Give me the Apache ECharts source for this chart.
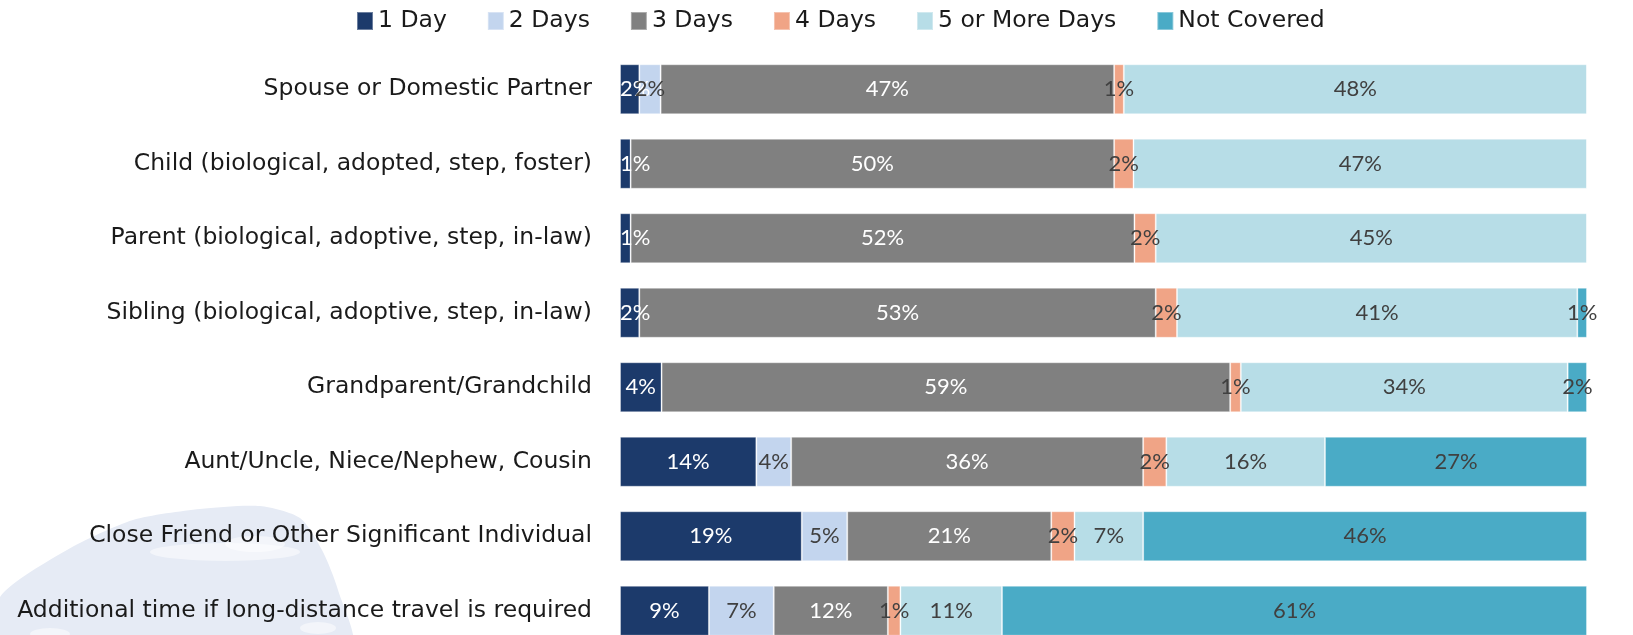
<!DOCTYPE html>
<html>
<head>
<meta charset="utf-8">
<script src="https://cdn.jsdelivr.net/npm/echarts@6/dist/echarts.min.js"></script>
<style>
  html, body { margin: 0; padding: 0; overflow: hidden; background: #fff; }
  #chart { width: 1633px; height: 648px; }
</style>
</head>
<body>
<div id="chart"></div>
<script>
  // categories, top to bottom
  var categories = [
    'Spouse or Domestic Partner',
    'Child (biological, adopted, step, foster)',
    'Parent (biological, adoptive, step, in-law)',
    'Sibling (biological, adoptive, step, in-law)',
    'Grandparent/Grandchild',
    'Aunt/Uncle, Niece/Nephew, Cousin',
    'Close Friend or Other Significant Individual',
    'Additional time if long-distance travel is required'
  ];

  // share of respondents (%)
  var oneDay     = [2.0, 1.1, 1.1, 2.0, 4.3, 14.1, 18.8, 9.2];
  var twoDays    = [2.2, 0, 0, 0, 0, 3.6, 4.7, 6.7];
  var threeDays  = [46.9, 50.0, 52.1, 53.4, 58.8, 36.4, 21.1, 11.8];
  var fourDays   = [1.0, 2.0, 2.2, 2.2, 1.1, 2.4, 2.4, 1.3];
  var fivePlus   = [47.9, 46.9, 44.6, 41.4, 33.8, 16.4, 7.1, 10.5];
  var notCovered = [0, 0, 0, 1.0, 2.0, 27.1, 45.9, 60.5];

  var seriesNames = ['1 Day', '2 Days', '3 Days', '4 Days', '5 or More Days', 'Not Covered'];
  var seriesData = [oneDay, twoDays, threeDays, fourDays, fivePlus, notCovered];
  var colors = ['#1c3a6b', '#c3d5ee', '#808080', '#f0a486', '#b7dde7', '#4aabc6'];
  var labelColors = ['#ffffff', '#404040', '#ffffff', '#404040', '#404040', '#404040'];

  var textFont = 'DejaVu Sans';

  var myChart = echarts.init(document.getElementById('chart'));

  function cloud(cx, cy, rx, ry) {
    return {
      type: 'circle', z: -9,
      x: cx, y: cy, scaleY: ry / rx,
      shape: { cx: 0, cy: 0, r: rx },
      style: { fill: '#ffffff', opacity: 0.5 }
    };
  }

  myChart.setOption({
    textStyle: { fontFamily: 'Lato' },
    animation: false,
    graphic: [
      { //左下角背景
        type: 'polygon',
        z: -10,
        shape: {
          points: [[0, 648], [0, 597], [67, 550], [133, 520], [200, 509], [260, 506], [300, 518], [322, 550], [338, 590], [350, 648]],
          smooth: 0.25
        },
        style: { fill: '#e6ebf5' }
      },
      cloud(225, 552, 75, 9),
      cloud(255, 544, 30, 8),
      cloud(50, 634, 20, 6),
      cloud(318, 628, 18, 6)
    ],
    legend: {
      left: 351,
      top: 4,
      icon: 'rect',
      itemWidth: 16,
      itemHeight: 18,
      itemGap: 40,
      textStyle: { fontSize: 23.5, color: '#1a1a1a', fontFamily: textFont },
      data: seriesNames
    },
    grid: { left: 620, right: 46, top: 52, bottom: 0 },
    xAxis: {
      type: 'value',
      min: 0,
      max: 100,
      show: false
    },
    yAxis: {
      type: 'category',
      inverse: true,
      data: categories,
      axisLine: { show: false },
      axisTick: { show: false },
      axisLabel: { margin: 28, fontSize: 23.5, color: '#1a1a1a', fontFamily: textFont }
    },
    series: seriesNames.map(function (name, i) {
      return {
        name: name,
        type: 'bar',
        stack: 'total',
        barWidth: 50,
        data: seriesData[i].map(function (v) {
          // 第一段很窄时标签靠左
          if (i === 0 && v < 3) {
            return { value: v, label: { position: 'insideLeft', distance: 0 } };
          }
          return v;
        }),
        itemStyle: {
          color: colors[i],
          borderColor: 'rgba(255,255,255,0.35)',
          borderWidth: 1
        },
        label: {
          show: true,
          position: 'inside',
          fontSize: 22,
          color: labelColors[i],
          formatter: function (p) {
            return p.value > 0 ? Math.round(p.value) + '%' : '';
          }
        }
      };
    })
  });
</script>
</body>
</html>
